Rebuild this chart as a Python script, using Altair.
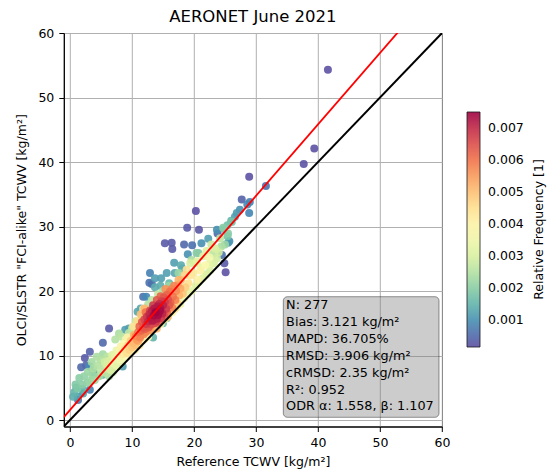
import altair as alt
import pandas as pd

# (reference TCWV, OLCI/SLSTR TCWV, relative frequency)
sparse_pts = [
    (41.6, 54.3, 0.00018), (39.4, 42.1, 0.00020), (37.7, 39.7, 0.00022), (28.9, 37.7, 0.00020),
    (31.6, 36.3, 0.00060), (27.7, 34.2, 0.00040), (29.0, 33.8, 0.00080), (28.6, 33.4, 0.00090),
    (28.9, 32.1, 0.00085), (27.4, 32.6, 0.00100), (20.3, 32.4, 0.00020), (18.9, 29.8, 0.00030),
    (20.8, 29.5, 0.00025), (23.7, 29.5, 0.00100), (26.6, 31.5, 0.00120), (26.9, 32.1, 0.00115),
    (26.0, 30.9, 0.00150), (25.4, 30.2, 0.00170), (24.8, 29.6, 0.00160), (15.3, 27.4, 0.00030),
    (16.4, 27.5, 0.00030), (16.5, 26.5, 0.00030), (18.4, 27.2, 0.00050), (19.7, 27.1, 0.00060),
    (21.2, 27.4, 0.00100), (19.0, 25.7, 0.00100), (22.3, 28.1, 0.00120), (23.8, 28.9, 0.00050),
    (25.7, 27.7, 0.00100), (24.5, 25.6, 0.00060), (24.9, 24.3, 0.00030), (25.1, 22.9, 0.00020),
    (12.8, 21.3, 0.00060), (13.2, 21.1, 0.00050), (11.8, 19.1, 0.00060), (6.3, 14.2, 0.00030),
    (5.3, 12.0, 0.00050), (3.2, 10.6, 0.00040), (2.4, 9.6, 0.00030), (2.6, 8.5, 0.00050),
    (1.8, 8.2, 0.00050), (1.3, 3.1, 0.00070), (3.2, 4.7, 0.00080),
]
teal_pts = [
    (1.3, 3.6, 0.0012), (0.5, 3.6, 0.0014), (2.1, 4.1, 0.0012), (3.9, 7.3, 0.0014),
    (5.2, 7.0, 0.0016), (8.5, 8.3, 0.0012), (3.2, 8.3, 0.0009), (9.5, 14.2, 0.0012),
    (11.4, 17.3, 0.0013), (12.3, 19.1, 0.0009), (14.7, 22.0, 0.0012), (14.6, 20.8, 0.0014),
    (13.7, 20.6, 0.0014), (13.4, 12.8, 0.0015), (16.8, 24.4, 0.0012), (15.6, 22.8, 0.0012),
    (16.9, 22.8, 0.0013), (18.1, 23.5, 0.0014), (17.9, 24.0, 0.0014), (13.7, 22.0, 0.0012),
    (16.0, 21.2, 0.0016), (25.5, 27.5, 0.0011), (10.9, 16.8, 0.0013), (8.9, 14.0, 0.0012),
    (12.9, 22.8, 0.0008), (15.0, 15.0, 0.0016), (15.6, 15.8, 0.0017), (1.0, 5.0, 0.0016),
    (0.7, 4.3, 0.0015), (2.0, 4.8, 0.0015),
]
green_pts = [
    (4.3, 9.8, 0.0024), (4.5, 8.5, 0.0025), (5.5, 8.3, 0.0026), (6.3, 6.8, 0.0024),
    (4.7, 6.8, 0.0023), (3.6, 7.0, 0.0022), (2.3, 6.8, 0.0021), (1.5, 6.5, 0.0020),
    (0.9, 5.5, 0.0019), (1.2, 4.9, 0.0019), (2.8, 5.8, 0.0021), (3.3, 6.1, 0.0022),
    (4.0, 6.2, 0.0023), (5.0, 7.5, 0.0026), (5.8, 7.3, 0.0026), (6.9, 7.4, 0.0027),
    (4.9, 9.4, 0.0025), (3.8, 8.0, 0.0024), (2.9, 7.5, 0.0022), (5.3, 10.2, 0.0023),
    (7.9, 13.4, 0.0024), (7.3, 12.5, 0.0025), (8.3, 12.9, 0.0026), (9.5, 13.5, 0.0027),
    (10.0, 14.2, 0.0027), (11.6, 16.0, 0.0026), (12.6, 17.9, 0.0025), (13.2, 18.6, 0.0026),
    (15.0, 20.0, 0.0024), (16.0, 20.8, 0.0022), (25.4, 28.5, 0.0018), (24.7, 29.8, 0.0020),
    (26.1, 30.7, 0.0018), (25.5, 28.9, 0.0020), (20.7, 25.9, 0.0019), (20.4, 25.9, 0.0020),
    (23.1, 25.8, 0.0026), (24.4, 26.9, 0.0024), (25.0, 27.2, 0.0022), (2.0, 5.5, 0.0020),
    (6.0, 9.8, 0.0026), (3.5, 9.0, 0.0023), (19.6, 24.8, 0.0024), (17.5, 22.8, 0.0022),
    (14.2, 19.5, 0.0027), (10.6, 15.3, 0.0028),
]
light_pts = [
    (13.5, 14.0, 0.0034), (14.6, 14.9, 0.0036), (15.6, 16.0, 0.0037), (16.5, 16.7, 0.0038),
    (17.2, 17.5, 0.0036), (17.8, 18.0, 0.0035), (18.4, 18.9, 0.0034), (19.0, 19.5, 0.0033),
    (19.6, 20.0, 0.0032), (20.3, 20.8, 0.0031), (20.8, 21.4, 0.0030), (21.4, 22.0, 0.0031),
    (22.0, 22.6, 0.0030), (22.6, 23.2, 0.0030), (23.2, 24.3, 0.0030), (23.7, 25.1, 0.0029),
    (24.2, 28.2, 0.0026), (23.4, 26.6, 0.0030), (24.0, 26.0, 0.0029), (8.3, 9.1, 0.0036),
    (9.1, 9.8, 0.0038), (9.9, 10.6, 0.0040), (7.6, 8.3, 0.0032), (6.5, 7.8, 0.0030),
    (7.0, 8.8, 0.0033), (7.8, 9.6, 0.0036), (8.0, 10.6, 0.0037), (7.3, 9.9, 0.0034),
    (8.6, 11.8, 0.0038), (9.0, 12.5, 0.0036), (6.0, 8.5, 0.0030), (6.8, 10.1, 0.0031),
    (5.6, 9.0, 0.0029), (10.5, 10.9, 0.0040), (11.2, 11.6, 0.0041), (12.0, 12.5, 0.0040),
    (12.6, 12.9, 0.0038), (20.5, 24.6, 0.0031), (21.2, 23.7, 0.0034), (22.4, 24.1, 0.0033),
    (19.4, 24.3, 0.0030), (22.0, 26.2, 0.0031), (21.5, 25.4, 0.0032), (22.8, 27.2, 0.0028),
    (20.2, 24.3, 0.0030),
]
orange_pts = [
    (8.5, 10.2, 0.0042), (8.9, 11.0, 0.0044), (9.2, 10.4, 0.0045), (9.4, 11.6, 0.0047),
    (9.6, 10.9, 0.0047), (9.8, 12.3, 0.0048), (10.0, 11.3, 0.0049), (10.2, 12.0, 0.0051),
    (10.3, 13.2, 0.0052), (10.5, 11.6, 0.0050), (10.7, 12.9, 0.0054), (11.0, 12.2, 0.0053),
    (11.4, 13.1, 0.0056), (11.9, 13.3, 0.0057), (12.2, 13.6, 0.0058), (12.5, 13.9, 0.0056),
    (13.0, 14.2, 0.0052), (13.4, 14.3, 0.0048), (13.9, 14.6, 0.0047), (14.3, 14.9, 0.0045),
    (14.8, 15.3, 0.0044), (15.3, 15.7, 0.0043), (15.9, 16.4, 0.0044), (16.3, 16.9, 0.0046),
    (16.8, 17.5, 0.0047), (17.3, 18.1, 0.0048), (17.6, 19.3, 0.0052), (17.4, 20.9, 0.0054),
    (17.9, 21.7, 0.0050), (18.2, 19.6, 0.0049), (18.5, 22.5, 0.0047), (18.8, 23.3, 0.0044),
    (18.6, 20.6, 0.0048), (19.1, 21.2, 0.0045), (19.4, 22.4, 0.0043), (19.9, 22.8, 0.0042),
    (20.5, 21.8, 0.0040), (21.0, 23.2, 0.0040), (21.8, 24.0, 0.0038), (22.5, 25.2, 0.0036),
    (12.0, 17.3, 0.0052), (11.4, 16.4, 0.0050), (10.9, 15.3, 0.0046), (10.2, 14.5, 0.0044),
    (17.8, 20.4, 0.0053), (14.0, 14.2, 0.0052), (15.8, 16.0, 0.0050), (16.9, 17.2, 0.0044),
    (9.3, 12.8, 0.0040), (11.8, 17.2, 0.0042), (8.2, 11.4, 0.0040), (7.5, 10.8, 0.0034),
    (6.4, 9.2, 0.0030), (17.5, 21.7, 0.0052), (13.0, 13.9, 0.0055),
]
core_pts = [
    (11.0, 13.6, 0.0060), (11.2, 14.5, 0.0062), (11.5, 13.9, 0.0062), (11.6, 15.2, 0.0064),
    (11.8, 14.3, 0.0064), (12.0, 15.6, 0.0066), (12.1, 14.1, 0.0063), (12.3, 14.9, 0.0068),
    (12.4, 16.0, 0.0068), (12.6, 15.3, 0.0070), (12.7, 14.4, 0.0064), (12.8, 16.4, 0.0070),
    (13.0, 15.8, 0.0072), (13.1, 14.8, 0.0066), (13.2, 16.9, 0.0071), (13.3, 15.4, 0.0072),
    (13.5, 16.2, 0.0074), (13.6, 17.3, 0.0072), (13.7, 15.0, 0.0066), (13.8, 16.7, 0.0075),
    (14.0, 15.7, 0.0072), (14.1, 17.6, 0.0072), (14.2, 16.3, 0.0074), (14.3, 15.2, 0.0064),
    (14.4, 18.0, 0.0070), (14.5, 16.9, 0.0074), (14.6, 17.3, 0.0073), (14.7, 15.8, 0.0068),
    (14.8, 18.4, 0.0067), (14.9, 16.5, 0.0071), (15.0, 17.8, 0.0071), (15.1, 19.0, 0.0064),
    (15.2, 16.1, 0.0065), (15.3, 18.3, 0.0068), (15.5, 17.2, 0.0068), (15.6, 19.4, 0.0062),
    (15.7, 16.6, 0.0062), (15.8, 18.7, 0.0065), (16.0, 17.8, 0.0064), (16.1, 19.9, 0.0060),
    (16.2, 18.2, 0.0062), (16.4, 20.3, 0.0058), (16.5, 17.4, 0.0058), (16.6, 19.1, 0.0060),
    (16.8, 20.8, 0.0058), (17.0, 18.6, 0.0058), (17.1, 20.0, 0.0057), (10.6, 13.0, 0.0057),
    (10.8, 12.4, 0.0055), (11.3, 12.8, 0.0058), (13.4, 17.8, 0.0068), (12.9, 17.0, 0.0066),
    (14.0, 18.6, 0.0064), (13.9, 15.3, 0.0068), (15.4, 20.3, 0.0056), (12.2, 16.7, 0.0060),
    (14.6, 19.2, 0.0062),
]

axis_ticks = [0, 10, 20, 30, 40, 50, 60]
axis_range = [-1, 60]
odr_alpha, odr_beta = 1.558, 1.107
cbar_ticks = [0.001, 0.002, 0.003, 0.004, 0.005, 0.006, 0.007]
freq_domain = [0.00016, 0.00751]
stats_lines = [
    "N: 277",
    "Bias: 3.121 kg/m²",
    "MAPD: 36.705%",
    "RMSD: 3.906 kg/m²",
    "cRMSD: 2.35 kg/m²",
    "R²: 0.952",
    "ODR α: 1.558, β: 1.107",
]

rows = []
for grp in (sparse_pts, teal_pts, green_pts, light_pts, orange_pts, core_pts):
    rows.extend(grp)
df = pd.DataFrame(rows, columns=["ref", "olci", "freq"]).sort_values("freq")

FONT = "DejaVu Sans"
W, H = 378.2, 393.5
xs = alt.Scale(domain=axis_range, nice=False, zero=False)
ys = alt.Scale(domain=axis_range, nice=False, zero=False)

common_axis = dict(
    values=axis_ticks, labelFont=FONT, labelFontSize=12.5, labelColor="black",
    titleFont=FONT, titleFontSize=12.5, titleFontWeight="normal", titleColor="black",
    tickColor="black", tickSize=5, domainColor="black", gridColor="#b0b0b0",
    gridWidth=1, labelFlush=False,
)

points = alt.Chart(df).mark_circle(size=64, opacity=0.9).encode(
    x=alt.X("ref:Q", scale=xs,
            axis=alt.Axis(title="Reference TCWV [kg/m²]", labelPadding=5, titlePadding=6, **common_axis)),
    y=alt.Y("olci:Q", scale=ys,
            axis=alt.Axis(title='OLCI/SLSTR "FCI-alike" TCWV [kg/m²]', labelPadding=5, titlePadding=9, **common_axis)),
    color=alt.Color("freq:Q",
                    scale=alt.Scale(scheme="spectral", reverse=True, domain=freq_domain),
                    legend=alt.Legend(orient="none", legendX=403.2, legendY=79, title=None,
                                      direction="vertical", gradientLength=235, gradientThickness=13,
                                      gradientStrokeColor="black", gradientStrokeWidth=0.8,
                                      values=cbar_ticks, format=".3f", labelFont=FONT,
                                      labelFontSize=12.5, labelColor="black", labelOffset=8,
                                      labelOverlap=False)),
    order=alt.Order("freq:Q"),
)

line_base = alt.Chart(pd.DataFrame({"ref": axis_range}))
one_to_one = line_base.transform_calculate(olci="datum.ref").mark_line(
    clip=True, color="black", strokeWidth=2).encode(
    x=alt.X("ref:Q", scale=xs), y=alt.Y("olci:Q", scale=ys))
odr_line = line_base.transform_calculate(olci=f"{odr_alpha} + {odr_beta} * datum.ref").mark_line(
    clip=True, color="red", strokeWidth=1.8).encode(
    x=alt.X("ref:Q", scale=xs), y=alt.Y("olci:Q", scale=ys))

dummy = alt.Data(values=[{}])
box = alt.Chart(dummy).mark_rect(
    fill="#808080", fillOpacity=0.4, stroke="black", strokeOpacity=0.4, strokeWidth=1, cornerRadius=4
).encode(x=alt.value(219.5), x2=alt.value(375.2), y=alt.value(263.7), y2=alt.value(384.3))
stats = alt.Chart(dummy).mark_text(
    align="left", baseline="top", font=FONT, fontSize=12.8, lineHeight=16.9, lineBreak="\n", color="black"
).encode(x=alt.value(222.3), y=alt.value(266), text=alt.value("\n".join(stats_lines)))
cbar_title = alt.Chart(dummy).mark_text(
    angle=270, align="center", baseline="middle", font=FONT, fontSize=12.5, color="black"
).encode(x=alt.value(475.2), y=alt.value(196.5), text=alt.value("Relative Frequency [1]"))

chart = alt.layer(points, one_to_one, odr_line, box, stats, cbar_title).properties(
    width=W, height=H,
    title=alt.TitleParams("AERONET June 2021", font=FONT, fontSize=16.5, fontWeight="normal",
                          color="black", anchor="middle", offset=2),
    autosize=alt.AutoSizeParams(type="none"),
    padding={"left": 63.8, "top": 33, "right": 107, "bottom": 43.5},
).configure_view(stroke="black", strokeWidth=1)

chart.save("out.html", embed_options={"renderer": "svg", "actions": False})
